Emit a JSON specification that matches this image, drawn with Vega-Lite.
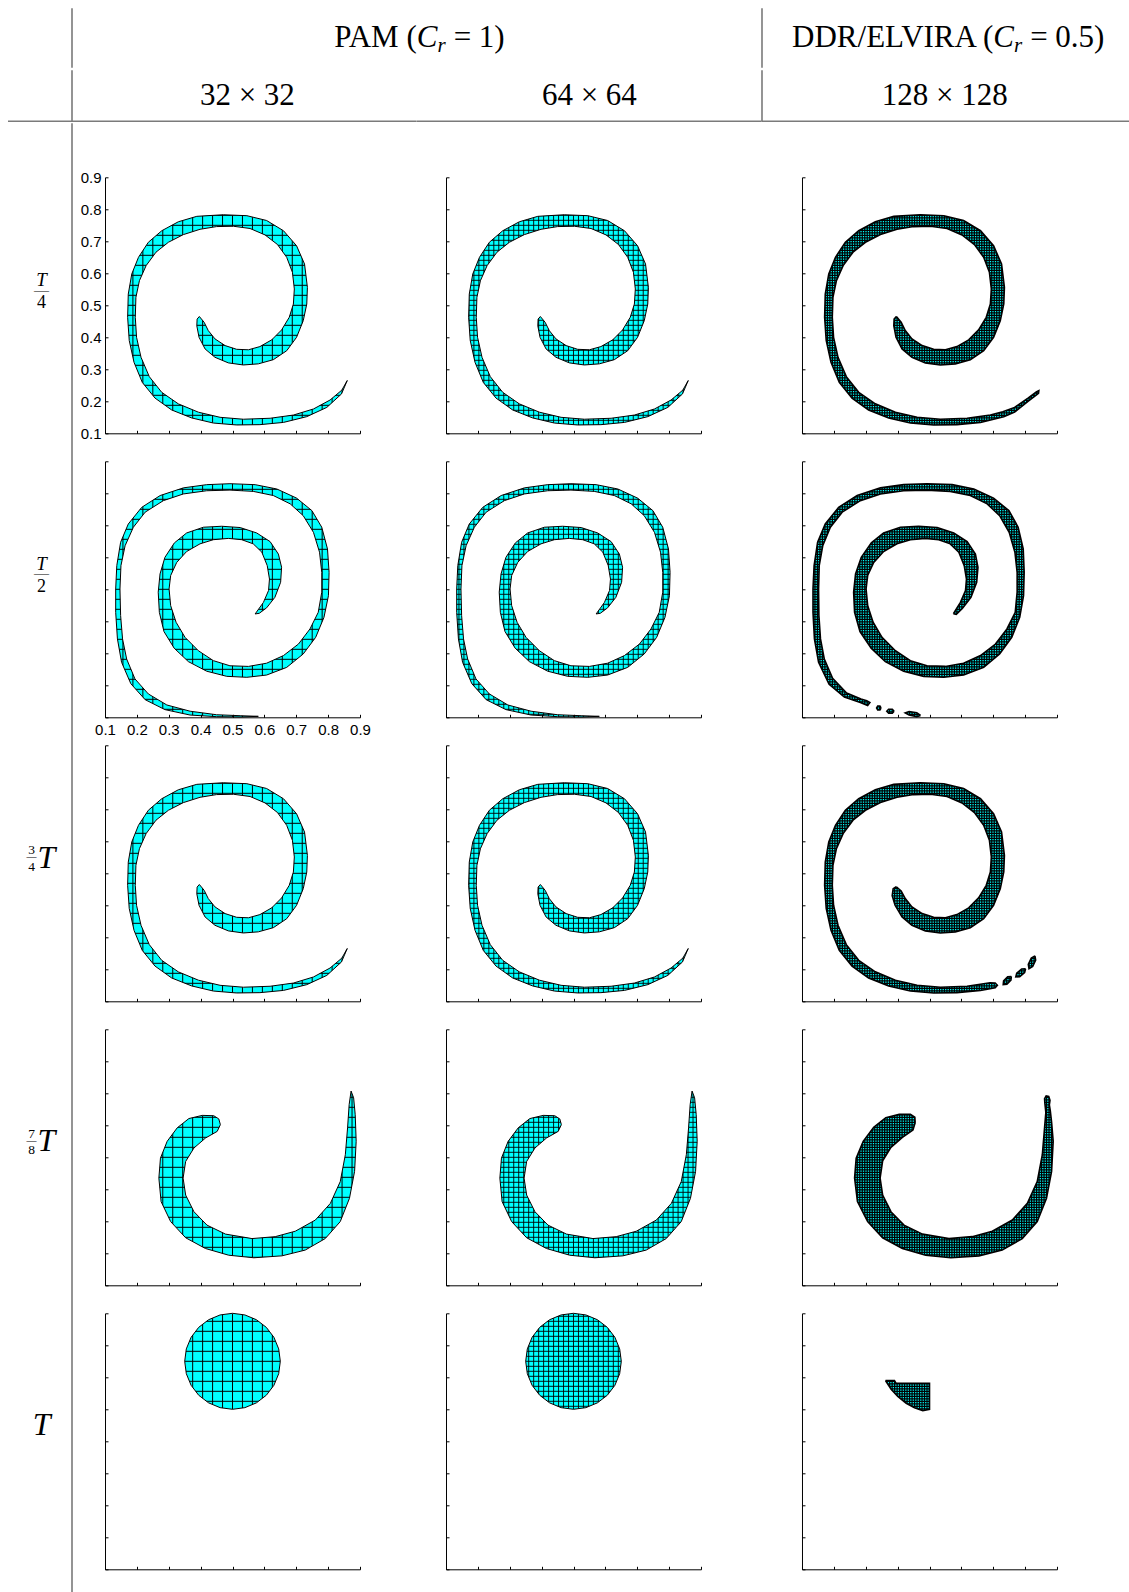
{
"$schema":"https://vega.github.io/schema/vega-lite/v6.json",
"padding":{"top":7.3,"left":0,"right":0,"bottom":0},
"config":{"view":{"stroke":null},"axis":{"domainColor":"black","tickColor":"black","labelColor":"black","labelFont":"Liberation Sans","labelFontSize":15,"grid":false,"domainWidth":1,"tickWidth":1,"tickSize":-3,"labelFlush":false,"labelOverlap":false}},
"datasets":{
"mesh":[1,2,3,4,5,6,7,8,9,10,11,12,13,14,15,16,17,18,19,20,21,22,23,24,25,26,27,28,29,30,31,32,33,34,35,36,37,38,39,40,41,42,43,44,45,46,47,48,49,50,51,52,53,54,55,56,57,58,59,60,61,62,63,64,65,66,67,68,69,70,71,72,73,74,75,76,77,78,79,80,81,82,83,84,85,86,87,88,89,90,91,92,93,94,95,96,97,98,99,100,101,102,103,104,105,106,107,108,109,110,111,112,113,114,115,116,117,118,119,120,121,122,123,124,125,126,127],
"t4":[{"p":"r","x":0.09,"y":0.09},{"p":"r","x":0.91,"y":0.09},{"p":"r","x":0.91,"y":0.91},{"p":"r","x":0.09,"y":0.91},{"p":"r","x":0.09,"y":0.09},
{"p":"s","x":0.396,"y":0.465},{"p":"s","x":0.411,"y":0.447},{"p":"s","x":0.424,"y":0.421},{"p":"s","x":0.445,"y":0.395},{"p":"s","x":0.477,"y":0.374},{"p":"s","x":0.513,"y":0.3625},{"p":"s","x":0.55,"y":0.361},{"p":"s","x":0.586,"y":0.371},{"p":"s","x":0.623,"y":0.392},{"p":"s","x":0.654,"y":0.423},{"p":"s","x":0.678,"y":0.4625},{"p":"s","x":0.691,"y":0.504},{"p":"s","x":0.694,"y":0.551},{"p":"s","x":0.688,"y":0.603},{"p":"s","x":0.67,"y":0.65},{"p":"s","x":0.641,"y":0.69},{"p":"s","x":0.602,"y":0.72},{"p":"s","x":0.555,"y":0.74},{"p":"s","x":0.503,"y":0.747},{"p":"s","x":0.45,"y":0.746},{"p":"s","x":0.398,"y":0.7375},{"p":"s","x":0.346,"y":0.721},{"p":"s","x":0.299,"y":0.697},{"p":"s","x":0.26,"y":0.666},{"p":"s","x":0.229,"y":0.624},{"p":"s","x":0.208,"y":0.577},{"p":"s","x":0.197,"y":0.525},{"p":"s","x":0.195,"y":0.4625},{"p":"s","x":0.199,"y":0.4},{"p":"s","x":0.213,"y":0.3375},{"p":"s","x":0.239,"y":0.277},{"p":"s","x":0.278,"y":0.228},{"p":"s","x":0.33,"y":0.192},{"p":"s","x":0.393,"y":0.166},{"p":"s","x":0.461,"y":0.15},{"p":"s","x":0.534,"y":0.144},{"p":"s","x":0.618,"y":0.147},{"p":"s","x":0.691,"y":0.157},{"p":"s","x":0.754,"y":0.176},{"p":"s","x":0.806,"y":0.204},{"p":"s","x":0.843,"y":0.235},{"p":"s","x":0.86,"y":0.265},{"p":"s","x":0.842,"y":0.223},{"p":"s","x":0.796,"y":0.181},{"p":"s","x":0.733,"y":0.152},{"p":"s","x":0.66,"y":0.134},{"p":"s","x":0.586,"y":0.127},{"p":"s","x":0.513,"y":0.126},{"p":"s","x":0.44,"y":0.132},{"p":"s","x":0.372,"y":0.148},{"p":"s","x":0.309,"y":0.173},{"p":"s","x":0.257,"y":0.21},{"p":"s","x":0.217,"y":0.259},{"p":"s","x":0.191,"y":0.322},{"p":"s","x":0.176,"y":0.39},{"p":"s","x":0.171,"y":0.4625},{"p":"s","x":0.173,"y":0.535},{"p":"s","x":0.184,"y":0.598},{"p":"s","x":0.205,"y":0.65},{"p":"s","x":0.236,"y":0.697},{"p":"s","x":0.278,"y":0.733},{"p":"s","x":0.33,"y":0.761},{"p":"s","x":0.388,"y":0.778},{"p":"s","x":0.471,"y":0.783},{"p":"s","x":0.545,"y":0.78},{"p":"s","x":0.607,"y":0.765},{"p":"s","x":0.66,"y":0.733},{"p":"s","x":0.701,"y":0.686},{"p":"s","x":0.726,"y":0.629},{"p":"s","x":0.735,"y":0.556},{"p":"s","x":0.733,"y":0.504},{"p":"s","x":0.722,"y":0.452},{"p":"s","x":0.701,"y":0.4},{"p":"s","x":0.67,"y":0.358},{"p":"s","x":0.628,"y":0.33},{"p":"s","x":0.581,"y":0.317},{"p":"s","x":0.534,"y":0.3135},{"p":"s","x":0.487,"y":0.32},{"p":"s","x":0.445,"y":0.3375},{"p":"s","x":0.414,"y":0.3635},{"p":"s","x":0.395,"y":0.4},{"p":"s","x":0.388,"y":0.436},{"p":"s","x":0.389,"y":0.457},{"p":"s","x":0.396,"y":0.465}],
"t4d":[{"p":"r","x":0.09,"y":0.09},{"p":"r","x":0.91,"y":0.09},{"p":"r","x":0.91,"y":0.91},{"p":"r","x":0.09,"y":0.91},{"p":"r","x":0.09,"y":0.09},
{"p":"s","x":0.396,"y":0.465},{"p":"s","x":0.411,"y":0.447},{"p":"s","x":0.424,"y":0.421},{"p":"s","x":0.445,"y":0.395},{"p":"s","x":0.477,"y":0.374},{"p":"s","x":0.513,"y":0.3625},{"p":"s","x":0.55,"y":0.361},{"p":"s","x":0.586,"y":0.371},{"p":"s","x":0.623,"y":0.392},{"p":"s","x":0.654,"y":0.423},{"p":"s","x":0.678,"y":0.4625},{"p":"s","x":0.691,"y":0.504},{"p":"s","x":0.694,"y":0.551},{"p":"s","x":0.688,"y":0.603},{"p":"s","x":0.67,"y":0.65},{"p":"s","x":0.641,"y":0.69},{"p":"s","x":0.602,"y":0.72},{"p":"s","x":0.555,"y":0.74},{"p":"s","x":0.503,"y":0.747},{"p":"s","x":0.45,"y":0.746},{"p":"s","x":0.398,"y":0.7375},{"p":"s","x":0.346,"y":0.721},{"p":"s","x":0.299,"y":0.697},{"p":"s","x":0.26,"y":0.666},{"p":"s","x":0.229,"y":0.624},{"p":"s","x":0.208,"y":0.577},{"p":"s","x":0.197,"y":0.525},{"p":"s","x":0.195,"y":0.4625},{"p":"s","x":0.199,"y":0.4},{"p":"s","x":0.213,"y":0.3375},{"p":"s","x":0.239,"y":0.277},{"p":"s","x":0.278,"y":0.228},{"p":"s","x":0.33,"y":0.192},{"p":"s","x":0.393,"y":0.166},{"p":"s","x":0.461,"y":0.15},{"p":"s","x":0.534,"y":0.144},{"p":"s","x":0.618,"y":0.147},{"p":"s","x":0.691,"y":0.157},{"p":"s","x":0.73,"y":0.167},{"p":"s","x":0.767,"y":0.181},{"p":"s","x":0.809,"y":0.21},{"p":"s","x":0.835,"y":0.229},{"p":"s","x":0.843,"y":0.233},{"p":"s","x":0.842,"y":0.225},{"p":"s","x":0.809,"y":0.2},{"p":"s","x":0.767,"y":0.166},{"p":"s","x":0.733,"y":0.152},{"p":"s","x":0.66,"y":0.134},{"p":"s","x":0.586,"y":0.127},{"p":"s","x":0.513,"y":0.126},{"p":"s","x":0.44,"y":0.132},{"p":"s","x":0.372,"y":0.148},{"p":"s","x":0.309,"y":0.173},{"p":"s","x":0.257,"y":0.21},{"p":"s","x":0.217,"y":0.259},{"p":"s","x":0.191,"y":0.322},{"p":"s","x":0.176,"y":0.39},{"p":"s","x":0.171,"y":0.4625},{"p":"s","x":0.173,"y":0.535},{"p":"s","x":0.184,"y":0.598},{"p":"s","x":0.205,"y":0.65},{"p":"s","x":0.236,"y":0.697},{"p":"s","x":0.278,"y":0.733},{"p":"s","x":0.33,"y":0.761},{"p":"s","x":0.388,"y":0.778},{"p":"s","x":0.471,"y":0.783},{"p":"s","x":0.545,"y":0.78},{"p":"s","x":0.607,"y":0.765},{"p":"s","x":0.66,"y":0.733},{"p":"s","x":0.701,"y":0.686},{"p":"s","x":0.726,"y":0.629},{"p":"s","x":0.735,"y":0.556},{"p":"s","x":0.733,"y":0.504},{"p":"s","x":0.722,"y":0.452},{"p":"s","x":0.701,"y":0.4},{"p":"s","x":0.67,"y":0.358},{"p":"s","x":0.628,"y":0.33},{"p":"s","x":0.581,"y":0.317},{"p":"s","x":0.534,"y":0.3135},{"p":"s","x":0.487,"y":0.32},{"p":"s","x":0.445,"y":0.3375},{"p":"s","x":0.414,"y":0.3635},{"p":"s","x":0.395,"y":0.4},{"p":"s","x":0.388,"y":0.436},{"p":"s","x":0.389,"y":0.457},{"p":"s","x":0.396,"y":0.465}],
"t34d":[{"p":"r","x":0.09,"y":0.09},{"p":"r","x":0.91,"y":0.09},{"p":"r","x":0.91,"y":0.91},{"p":"r","x":0.09,"y":0.91},{"p":"r","x":0.09,"y":0.09},
{"p":"s","x":0.396,"y":0.458},{"p":"s","x":0.411,"y":0.445},{"p":"s","x":0.424,"y":0.421},{"p":"s","x":0.445,"y":0.395},{"p":"s","x":0.477,"y":0.374},{"p":"s","x":0.513,"y":0.3625},{"p":"s","x":0.55,"y":0.361},{"p":"s","x":0.586,"y":0.371},{"p":"s","x":0.623,"y":0.392},{"p":"s","x":0.654,"y":0.423},{"p":"s","x":0.678,"y":0.4625},{"p":"s","x":0.691,"y":0.504},{"p":"s","x":0.694,"y":0.551},{"p":"s","x":0.688,"y":0.603},{"p":"s","x":0.67,"y":0.65},{"p":"s","x":0.641,"y":0.69},{"p":"s","x":0.602,"y":0.72},{"p":"s","x":0.555,"y":0.74},{"p":"s","x":0.503,"y":0.747},{"p":"s","x":0.45,"y":0.746},{"p":"s","x":0.398,"y":0.7375},{"p":"s","x":0.346,"y":0.721},{"p":"s","x":0.299,"y":0.697},{"p":"s","x":0.26,"y":0.666},{"p":"s","x":0.229,"y":0.624},{"p":"s","x":0.208,"y":0.577},{"p":"s","x":0.197,"y":0.525},{"p":"s","x":0.195,"y":0.4625},{"p":"s","x":0.199,"y":0.4},{"p":"s","x":0.213,"y":0.3375},{"p":"s","x":0.239,"y":0.277},{"p":"s","x":0.278,"y":0.228},{"p":"s","x":0.33,"y":0.192},{"p":"s","x":0.393,"y":0.166},{"p":"s","x":0.461,"y":0.15},{"p":"s","x":0.534,"y":0.144},{"p":"s","x":0.618,"y":0.147},{"p":"s","x":0.69,"y":0.158},{"p":"s","x":0.706,"y":0.157},{"p":"s","x":0.713,"y":0.15},{"p":"s","x":0.706,"y":0.142},{"p":"s","x":0.66,"y":0.134},{"p":"s","x":0.586,"y":0.127},{"p":"s","x":0.513,"y":0.126},{"p":"s","x":0.44,"y":0.132},{"p":"s","x":0.372,"y":0.148},{"p":"s","x":0.309,"y":0.173},{"p":"s","x":0.257,"y":0.21},{"p":"s","x":0.217,"y":0.259},{"p":"s","x":0.191,"y":0.322},{"p":"s","x":0.176,"y":0.39},{"p":"s","x":0.171,"y":0.4625},{"p":"s","x":0.173,"y":0.535},{"p":"s","x":0.184,"y":0.598},{"p":"s","x":0.205,"y":0.65},{"p":"s","x":0.236,"y":0.697},{"p":"s","x":0.278,"y":0.733},{"p":"s","x":0.33,"y":0.761},{"p":"s","x":0.388,"y":0.778},{"p":"s","x":0.471,"y":0.783},{"p":"s","x":0.545,"y":0.78},{"p":"s","x":0.607,"y":0.765},{"p":"s","x":0.66,"y":0.733},{"p":"s","x":0.701,"y":0.686},{"p":"s","x":0.726,"y":0.629},{"p":"s","x":0.735,"y":0.556},{"p":"s","x":0.733,"y":0.504},{"p":"s","x":0.722,"y":0.452},{"p":"s","x":0.701,"y":0.4},{"p":"s","x":0.67,"y":0.358},{"p":"s","x":0.628,"y":0.33},{"p":"s","x":0.581,"y":0.317},{"p":"s","x":0.534,"y":0.3135},{"p":"s","x":0.487,"y":0.32},{"p":"s","x":0.445,"y":0.3375},{"p":"s","x":0.414,"y":0.3635},{"p":"s","x":0.392,"y":0.4},{"p":"s","x":0.383,"y":0.43},{"p":"s","x":0.386,"y":0.452},{"p":"s","x":0.396,"y":0.458},
{"p":"r","x":0.09,"y":0.09},
{"p":"b1","x":0.7567,"y":0.1777},{"p":"b1","x":0.7555,"y":0.1662},{"p":"b1","x":0.7428,"y":0.1535},{"p":"b1","x":0.7313,"y":0.1523},{"p":"b1","x":0.7325,"y":0.1638},{"p":"b1","x":0.7452,"y":0.1765},{"p":"b1","x":0.7567,"y":0.1777},
{"p":"r","x":0.09,"y":0.09},
{"p":"b2","x":0.8013,"y":0.2019},{"p":"b2","x":0.7984,"y":0.1898},{"p":"b2","x":0.783,"y":0.177},{"p":"b2","x":0.7707,"y":0.1761},{"p":"b2","x":0.7737,"y":0.1882},{"p":"b2","x":0.789,"y":0.201},{"p":"b2","x":0.8013,"y":0.2019},
{"p":"r","x":0.09,"y":0.09},
{"p":"b3","x":0.8308,"y":0.2419},{"p":"b3","x":0.833,"y":0.2288},{"p":"b3","x":0.8237,"y":0.2089},{"p":"b3","x":0.8122,"y":0.2021},{"p":"b3","x":0.81,"y":0.2152},{"p":"b3","x":0.8194,"y":0.2351},{"p":"b3","x":0.8308,"y":0.2419}],
"t2":[{"p":"r","x":0.09,"y":0.09},{"p":"r","x":0.91,"y":0.09},{"p":"r","x":0.91,"y":0.91},{"p":"r","x":0.09,"y":0.91},{"p":"r","x":0.09,"y":0.09},
{"p":"s","x":0.571,"y":0.423},{"p":"s","x":0.597,"y":0.459},{"p":"s","x":0.613,"y":0.496},{"p":"s","x":0.616,"y":0.532},{"p":"s","x":0.609,"y":0.574},{"p":"s","x":0.592,"y":0.616},{"p":"s","x":0.565,"y":0.642},{"p":"s","x":0.529,"y":0.655},{"p":"s","x":0.487,"y":0.659},{"p":"s","x":0.44,"y":0.655},{"p":"s","x":0.398,"y":0.642},{"p":"s","x":0.356,"y":0.618},{"p":"s","x":0.325,"y":0.584},{"p":"s","x":0.306,"y":0.543},{"p":"s","x":0.301,"y":0.501},{"p":"s","x":0.306,"y":0.449},{"p":"s","x":0.323,"y":0.397},{"p":"s","x":0.351,"y":0.35},{"p":"s","x":0.393,"y":0.308},{"p":"s","x":0.44,"y":0.277},{"p":"s","x":0.492,"y":0.261},{"p":"s","x":0.55,"y":0.259},{"p":"s","x":0.607,"y":0.269},{"p":"s","x":0.66,"y":0.293},{"p":"s","x":0.707,"y":0.329},{"p":"s","x":0.743,"y":0.376},{"p":"s","x":0.769,"y":0.428},{"p":"s","x":0.78,"y":0.491},{"p":"s","x":0.78,"y":0.553},{"p":"s","x":0.773,"y":0.616},{"p":"s","x":0.754,"y":0.678},{"p":"s","x":0.722,"y":0.73},{"p":"s","x":0.681,"y":0.767},{"p":"s","x":0.628,"y":0.793},{"p":"s","x":0.565,"y":0.806},{"p":"s","x":0.492,"y":0.81},{"p":"s","x":0.419,"y":0.808},{"p":"s","x":0.346,"y":0.798},{"p":"s","x":0.283,"y":0.777},{"p":"s","x":0.226,"y":0.741},{"p":"s","x":0.189,"y":0.694},{"p":"s","x":0.163,"y":0.636},{"p":"s","x":0.15,"y":0.574},{"p":"s","x":0.147,"y":0.501},{"p":"s","x":0.149,"y":0.418},{"p":"s","x":0.155,"y":0.345},{"p":"s","x":0.168,"y":0.282},{"p":"s","x":0.194,"y":0.22},{"p":"s","x":0.236,"y":0.173},{"p":"s","x":0.294,"y":0.1385},{"p":"s","x":0.367,"y":0.119},{"p":"s","x":0.45,"y":0.108},{"p":"s","x":0.524,"y":0.105},{"p":"s","x":0.581,"y":0.103},{"p":"s","x":0.524,"y":0.101},{"p":"s","x":0.45,"y":0.102},{"p":"s","x":0.367,"y":0.107},{"p":"s","x":0.288,"y":0.124},{"p":"s","x":0.226,"y":0.155},{"p":"s","x":0.181,"y":0.205},{"p":"s","x":0.152,"y":0.272},{"p":"s","x":0.139,"y":0.345},{"p":"s","x":0.1335,"y":0.428},{"p":"s","x":0.1335,"y":0.501},{"p":"s","x":0.137,"y":0.574},{"p":"s","x":0.149,"y":0.647},{"p":"s","x":0.173,"y":0.704},{"p":"s","x":0.215,"y":0.756},{"p":"s","x":0.273,"y":0.793},{"p":"s","x":0.346,"y":0.817},{"p":"s","x":0.419,"y":0.827},{"p":"s","x":0.492,"y":0.83},{"p":"s","x":0.571,"y":0.827},{"p":"s","x":0.639,"y":0.8135},{"p":"s","x":0.701,"y":0.785},{"p":"s","x":0.749,"y":0.746},{"p":"s","x":0.78,"y":0.694},{"p":"s","x":0.798,"y":0.626},{"p":"s","x":0.803,"y":0.553},{"p":"s","x":0.801,"y":0.48},{"p":"s","x":0.787,"y":0.4125},{"p":"s","x":0.761,"y":0.35},{"p":"s","x":0.722,"y":0.298},{"p":"s","x":0.67,"y":0.256},{"p":"s","x":0.607,"y":0.232},{"p":"s","x":0.545,"y":0.225},{"p":"s","x":0.482,"y":0.228},{"p":"s","x":0.419,"y":0.244},{"p":"s","x":0.3615,"y":0.274},{"p":"s","x":0.317,"y":0.316},{"p":"s","x":0.285,"y":0.368},{"p":"s","x":0.2705,"y":0.428},{"p":"s","x":0.267,"y":0.491},{"p":"s","x":0.2726,"y":0.548},{"p":"s","x":0.288,"y":0.6},{"p":"s","x":0.3176,"y":0.645},{"p":"s","x":0.356,"y":0.676},{"p":"s","x":0.4086,"y":0.694},{"p":"s","x":0.466,"y":0.697},{"p":"s","x":0.524,"y":0.693},{"p":"s","x":0.576,"y":0.676},{"p":"s","x":0.618,"y":0.649},{"p":"s","x":0.644,"y":0.61},{"p":"s","x":0.654,"y":0.569},{"p":"s","x":0.651,"y":0.522},{"p":"s","x":0.633,"y":0.475},{"p":"s","x":0.607,"y":0.442},{"p":"s","x":0.584,"y":0.425},{"p":"s","x":0.571,"y":0.423}],
"t2d":[{"p":"r","x":0.09,"y":0.09},{"p":"r","x":0.91,"y":0.09},{"p":"r","x":0.91,"y":0.91},{"p":"r","x":0.09,"y":0.91},{"p":"r","x":0.09,"y":0.09},
{"p":"s","x":0.575,"y":0.424},{"p":"s","x":0.597,"y":0.459},{"p":"s","x":0.613,"y":0.496},{"p":"s","x":0.616,"y":0.532},{"p":"s","x":0.609,"y":0.574},{"p":"s","x":0.592,"y":0.616},{"p":"s","x":0.565,"y":0.642},{"p":"s","x":0.529,"y":0.655},{"p":"s","x":0.487,"y":0.659},{"p":"s","x":0.44,"y":0.655},{"p":"s","x":0.398,"y":0.642},{"p":"s","x":0.356,"y":0.618},{"p":"s","x":0.325,"y":0.584},{"p":"s","x":0.306,"y":0.543},{"p":"s","x":0.301,"y":0.501},{"p":"s","x":0.306,"y":0.449},{"p":"s","x":0.323,"y":0.397},{"p":"s","x":0.351,"y":0.35},{"p":"s","x":0.393,"y":0.308},{"p":"s","x":0.44,"y":0.277},{"p":"s","x":0.492,"y":0.261},{"p":"s","x":0.55,"y":0.259},{"p":"s","x":0.607,"y":0.269},{"p":"s","x":0.66,"y":0.293},{"p":"s","x":0.707,"y":0.329},{"p":"s","x":0.743,"y":0.376},{"p":"s","x":0.769,"y":0.428},{"p":"s","x":0.775,"y":0.491},{"p":"s","x":0.775,"y":0.553},{"p":"s","x":0.768,"y":0.616},{"p":"s","x":0.75,"y":0.678},{"p":"s","x":0.72,"y":0.73},{"p":"s","x":0.681,"y":0.767},{"p":"s","x":0.628,"y":0.793},{"p":"s","x":0.565,"y":0.806},{"p":"s","x":0.492,"y":0.81},{"p":"s","x":0.419,"y":0.808},{"p":"s","x":0.346,"y":0.798},{"p":"s","x":0.283,"y":0.777},{"p":"s","x":0.226,"y":0.741},{"p":"s","x":0.189,"y":0.694},{"p":"s","x":0.165,"y":0.636},{"p":"s","x":0.154,"y":0.574},{"p":"s","x":0.152,"y":0.501},{"p":"s","x":0.153,"y":0.418},{"p":"s","x":0.158,"y":0.345},{"p":"s","x":0.17,"y":0.282},{"p":"s","x":0.196,"y":0.222},{"p":"s","x":0.24,"y":0.176},{"p":"s","x":0.285,"y":0.157},{"p":"s","x":0.303,"y":0.152},{"p":"s","x":0.313,"y":0.146},{"p":"s","x":0.306,"y":0.137},{"p":"s","x":0.283,"y":0.146},{"p":"s","x":0.233,"y":0.163},{"p":"s","x":0.185,"y":0.203},{"p":"s","x":0.152,"y":0.272},{"p":"s","x":0.139,"y":0.345},{"p":"s","x":0.1345,"y":0.428},{"p":"s","x":0.1345,"y":0.501},{"p":"s","x":0.138,"y":0.574},{"p":"s","x":0.149,"y":0.647},{"p":"s","x":0.173,"y":0.704},{"p":"s","x":0.215,"y":0.756},{"p":"s","x":0.273,"y":0.793},{"p":"s","x":0.346,"y":0.817},{"p":"s","x":0.419,"y":0.827},{"p":"s","x":0.492,"y":0.83},{"p":"s","x":0.571,"y":0.827},{"p":"s","x":0.639,"y":0.8135},{"p":"s","x":0.701,"y":0.785},{"p":"s","x":0.749,"y":0.746},{"p":"s","x":0.778,"y":0.694},{"p":"s","x":0.794,"y":0.626},{"p":"s","x":0.797,"y":0.553},{"p":"s","x":0.795,"y":0.48},{"p":"s","x":0.783,"y":0.4125},{"p":"s","x":0.758,"y":0.35},{"p":"s","x":0.72,"y":0.298},{"p":"s","x":0.67,"y":0.256},{"p":"s","x":0.607,"y":0.232},{"p":"s","x":0.545,"y":0.225},{"p":"s","x":0.482,"y":0.228},{"p":"s","x":0.419,"y":0.244},{"p":"s","x":0.3615,"y":0.274},{"p":"s","x":0.317,"y":0.316},{"p":"s","x":0.282,"y":0.368},{"p":"s","x":0.265,"y":0.428},{"p":"s","x":0.262,"y":0.491},{"p":"s","x":0.268,"y":0.548},{"p":"s","x":0.286,"y":0.6},{"p":"s","x":0.3176,"y":0.645},{"p":"s","x":0.356,"y":0.676},{"p":"s","x":0.4086,"y":0.694},{"p":"s","x":0.466,"y":0.697},{"p":"s","x":0.524,"y":0.693},{"p":"s","x":0.576,"y":0.676},{"p":"s","x":0.618,"y":0.649},{"p":"s","x":0.644,"y":0.61},{"p":"s","x":0.652,"y":0.569},{"p":"s","x":0.648,"y":0.522},{"p":"s","x":0.63,"y":0.475},{"p":"s","x":0.603,"y":0.44},{"p":"s","x":0.584,"y":0.422},{"p":"s","x":0.575,"y":0.424},
{"p":"r","x":0.09,"y":0.09},
{"p":"b1","x":0.348,"y":0.129},{"p":"b1","x":0.3445,"y":0.1229},{"p":"b1","x":0.3375,"y":0.1229},{"p":"b1","x":0.334,"y":0.129},{"p":"b1","x":0.3375,"y":0.1351},{"p":"b1","x":0.3445,"y":0.1351},{"p":"b1","x":0.348,"y":0.129},
{"p":"r","x":0.09,"y":0.09},
{"p":"b2","x":0.389,"y":0.119},{"p":"b2","x":0.3833,"y":0.1127},{"p":"b2","x":0.3718,"y":0.1127},{"p":"b2","x":0.366,"y":0.119},{"p":"b2","x":0.3718,"y":0.1253},{"p":"b2","x":0.3833,"y":0.1253},{"p":"b2","x":0.389,"y":0.119},
{"p":"r","x":0.09,"y":0.09},
{"p":"b3","x":0.472,"y":0.106},{"p":"b3","x":0.46,"y":0.102},{"p":"b3","x":0.436,"y":0.1075},{"p":"b3","x":0.424,"y":0.114},{"p":"b3","x":0.436,"y":0.118},{"p":"b3","x":0.46,"y":0.1145},{"p":"b3","x":0.472,"y":0.106}],
"t78":[{"p":"r","x":0.09,"y":0.09},{"p":"r","x":0.91,"y":0.09},{"p":"r","x":0.91,"y":0.91},{"p":"r","x":0.09,"y":0.91},{"p":"r","x":0.09,"y":0.09},
{"p":"s","x":0.462,"y":0.602},{"p":"s","x":0.452,"y":0.581},{"p":"s","x":0.415,"y":0.56},{"p":"s","x":0.379,"y":0.529},{"p":"s","x":0.353,"y":0.487},{"p":"s","x":0.345,"y":0.435},{"p":"s","x":0.353,"y":0.382},{"p":"s","x":0.379,"y":0.33},{"p":"s","x":0.42,"y":0.288},{"p":"s","x":0.478,"y":0.26},{"p":"s","x":0.561,"y":0.246},{"p":"s","x":0.634,"y":0.252},{"p":"s","x":0.697,"y":0.269},{"p":"s","x":0.76,"y":0.304},{"p":"s","x":0.807,"y":0.356},{"p":"s","x":0.838,"y":0.424},{"p":"s","x":0.854,"y":0.508},{"p":"s","x":0.861,"y":0.592},{"p":"s","x":0.866,"y":0.665},{"p":"s","x":0.872,"y":0.707},{"p":"s","x":0.88,"y":0.686},{"p":"s","x":0.885,"y":0.633},{"p":"s","x":0.888,"y":0.55},{"p":"s","x":0.883,"y":0.456},{"p":"s","x":0.867,"y":0.372},{"p":"s","x":0.838,"y":0.299},{"p":"s","x":0.791,"y":0.246},{"p":"s","x":0.728,"y":0.21},{"p":"s","x":0.655,"y":0.192},{"p":"s","x":0.567,"y":0.186},{"p":"s","x":0.488,"y":0.194},{"p":"s","x":0.415,"y":0.215},{"p":"s","x":0.353,"y":0.2485},{"p":"s","x":0.306,"y":0.299},{"p":"s","x":0.276,"y":0.3615},{"p":"s","x":0.269,"y":0.435},{"p":"s","x":0.274,"y":0.4975},{"p":"s","x":0.295,"y":0.55},{"p":"s","x":0.3265,"y":0.592},{"p":"s","x":0.363,"y":0.621},{"p":"s","x":0.405,"y":0.631},{"p":"s","x":0.441,"y":0.63},{"p":"s","x":0.457,"y":0.62},{"p":"s","x":0.462,"y":0.602}],
"t78d":[{"p":"r","x":0.09,"y":0.09},{"p":"r","x":0.91,"y":0.09},{"p":"r","x":0.91,"y":0.91},{"p":"r","x":0.09,"y":0.91},{"p":"r","x":0.09,"y":0.09},
{"p":"s","x":0.455,"y":0.608},{"p":"s","x":0.448,"y":0.585},{"p":"s","x":0.415,"y":0.562},{"p":"s","x":0.379,"y":0.531},{"p":"s","x":0.353,"y":0.489},{"p":"s","x":0.345,"y":0.435},{"p":"s","x":0.353,"y":0.382},{"p":"s","x":0.379,"y":0.33},{"p":"s","x":0.42,"y":0.288},{"p":"s","x":0.478,"y":0.26},{"p":"s","x":0.561,"y":0.246},{"p":"s","x":0.634,"y":0.252},{"p":"s","x":0.697,"y":0.269},{"p":"s","x":0.76,"y":0.304},{"p":"s","x":0.807,"y":0.356},{"p":"s","x":0.838,"y":0.424},{"p":"s","x":0.854,"y":0.508},{"p":"s","x":0.861,"y":0.592},{"p":"s","x":0.865,"y":0.64},{"p":"s","x":0.862,"y":0.668},{"p":"s","x":0.861,"y":0.683},{"p":"s","x":0.866,"y":0.692},{"p":"s","x":0.874,"y":0.69},{"p":"s","x":0.878,"y":0.678},{"p":"s","x":0.876,"y":0.664},{"p":"s","x":0.879,"y":0.645},{"p":"s","x":0.883,"y":0.61},{"p":"s","x":0.888,"y":0.55},{"p":"s","x":0.883,"y":0.456},{"p":"s","x":0.867,"y":0.372},{"p":"s","x":0.838,"y":0.299},{"p":"s","x":0.791,"y":0.246},{"p":"s","x":0.728,"y":0.21},{"p":"s","x":0.655,"y":0.192},{"p":"s","x":0.567,"y":0.186},{"p":"s","x":0.488,"y":0.194},{"p":"s","x":0.415,"y":0.215},{"p":"s","x":0.353,"y":0.2485},{"p":"s","x":0.306,"y":0.299},{"p":"s","x":0.274,"y":0.3615},{"p":"s","x":0.265,"y":0.435},{"p":"s","x":0.27,"y":0.4975},{"p":"s","x":0.292,"y":0.55},{"p":"s","x":0.325,"y":0.594},{"p":"s","x":0.363,"y":0.624},{"p":"s","x":0.405,"y":0.634},{"p":"s","x":0.44,"y":0.634},{"p":"s","x":0.454,"y":0.625},{"p":"s","x":0.455,"y":0.608}],
"circ":[{"p":"r","x":0.09,"y":0.09},{"p":"r","x":0.91,"y":0.09},{"p":"r","x":0.91,"y":0.91},{"p":"r","x":0.09,"y":0.91},{"p":"r","x":0.09,"y":0.09},
{"p":"s","x":0.65,"y":0.75},{"p":"s","x":0.6449,"y":0.7112},{"p":"s","x":0.6299,"y":0.675},{"p":"s","x":0.6061,"y":0.6439},{"p":"s","x":0.575,"y":0.6201},{"p":"s","x":0.5388,"y":0.6051},{"p":"s","x":0.5,"y":0.6},{"p":"s","x":0.4612,"y":0.6051},{"p":"s","x":0.425,"y":0.6201},{"p":"s","x":0.3939,"y":0.6439},{"p":"s","x":0.3701,"y":0.675},{"p":"s","x":0.3551,"y":0.7112},{"p":"s","x":0.35,"y":0.75},{"p":"s","x":0.3551,"y":0.7888},{"p":"s","x":0.3701,"y":0.825},{"p":"s","x":0.3939,"y":0.8561},{"p":"s","x":0.425,"y":0.8799},{"p":"s","x":0.4612,"y":0.8949},{"p":"s","x":0.5,"y":0.9},{"p":"s","x":0.5388,"y":0.8949},{"p":"s","x":0.575,"y":0.8799},{"p":"s","x":0.6061,"y":0.8561},{"p":"s","x":0.6299,"y":0.825},{"p":"s","x":0.6449,"y":0.7888},{"p":"s","x":0.65,"y":0.75}],
"wedge":[{"p":"r","x":0.09,"y":0.09},{"p":"r","x":0.91,"y":0.09},{"p":"r","x":0.91,"y":0.91},{"p":"r","x":0.09,"y":0.91},{"p":"r","x":0.09,"y":0.09},
{"p":"s","x":0.362,"y":0.69},{"p":"s","x":0.39,"y":0.69},{"p":"s","x":0.395,"y":0.6816},{"p":"s","x":0.5,"y":0.6816},{"p":"s","x":0.5,"y":0.6},{"p":"s","x":0.479,"y":0.596},{"p":"s","x":0.453,"y":0.605},{"p":"s","x":0.427,"y":0.619},{"p":"s","x":0.4005,"y":0.64},{"p":"s","x":0.3796,"y":0.663},{"p":"s","x":0.367,"y":0.6816},{"p":"s","x":0.362,"y":0.69}]
},
"vconcat":[
{"vconcat":[
 {"hconcat":[
  {"width":72,"height":59.5,"data":{"values":[{}]},"mark":{"type":"rule","color":"#7a7a7a","strokeWidth":1.6},"encoding":{"x":{"datum":1,"type":"quantitative","scale":{"domain":[0,1]},"axis":null}}},
  {"width":689.5,"height":59.5,"data":{"values":[{}]},"layer":[
   {"mark":{"type":"text","text":"PAM (","align":"right","font":"Liberation Serif","fontSize":31},"encoding":{}},
   {"mark":{"type":"text","text":"C","align":"left","font":"Liberation Serif","fontStyle":"italic","fontSize":31},"encoding":{}},
   {"mark":{"type":"text","text":"r","align":"left","font":"Liberation Serif","fontStyle":"italic","fontSize":21,"dx":20.7,"dy":7.5},"encoding":{}},
   {"mark":{"type":"text","text":"= 1)","align":"left","font":"Liberation Serif","fontSize":31,"dx":36.9},"encoding":{}}
  ]},
  {"width":367.5,"height":59.5,"data":{"values":[{}]},"layer":[
   {"mark":{"type":"rule","color":"#7a7a7a","strokeWidth":1.6},"encoding":{"x":{"datum":0,"type":"quantitative","scale":{"domain":[0,1]},"axis":null}}},
   {"mark":{"type":"text","text":"DDR/ELVIRA (","align":"right","font":"Liberation Serif","fontSize":31,"dx":47.5},"encoding":{}},
   {"mark":{"type":"text","text":"C","align":"left","font":"Liberation Serif","fontStyle":"italic","fontSize":31,"dx":47.5},"encoding":{}},
   {"mark":{"type":"text","text":"r","align":"left","font":"Liberation Serif","fontStyle":"italic","fontSize":21,"dx":68.2,"dy":7.5},"encoding":{}},
   {"mark":{"type":"text","text":"= 0.5)","align":"left","font":"Liberation Serif","fontSize":31,"dx":84.4},"encoding":{}}
  ]}
 ],"spacing":0,"bounds":"flush"},
 {"hconcat":[
  {"width":72,"height":51,"data":{"values":[{}]},"layer":[
   {"mark":{"type":"rule","color":"#7a7a7a","strokeWidth":1.6},"encoding":{"x":{"datum":1,"type":"quantitative","scale":{"domain":[0,1]},"axis":null}}},
   {"mark":{"type":"rule","color":"#7a7a7a","strokeWidth":1.6},"encoding":{"x":{"datum":0.111,"type":"quantitative","scale":{"domain":[0,1]},"axis":null},"x2":{"datum":1},"y":{"datum":0,"type":"quantitative","scale":{"domain":[0,1]},"axis":null}}}
  ]},
  {"width":344.75,"height":51,"data":{"values":[{}]},"layer":[
   {"mark":{"type":"text","text":"32 × 32","font":"Liberation Serif","fontSize":31,"dx":3},"encoding":{}},
   {"mark":{"type":"rule","color":"#7a7a7a","strokeWidth":1.6},"encoding":{"y":{"datum":0,"type":"quantitative","scale":{"domain":[0,1]},"axis":null}}}
  ]},
  {"width":344.75,"height":51,"data":{"values":[{}]},"layer":[
   {"mark":{"type":"text","text":"64 × 64","font":"Liberation Serif","fontSize":31},"encoding":{}},
   {"mark":{"type":"rule","color":"#7a7a7a","strokeWidth":1.6},"encoding":{"y":{"datum":0,"type":"quantitative","scale":{"domain":[0,1]},"axis":null}}}
  ]},
  {"width":367.5,"height":51,"data":{"values":[{}]},"layer":[
   {"mark":{"type":"rule","color":"#7a7a7a","strokeWidth":1.6},"encoding":{"x":{"datum":0,"type":"quantitative","scale":{"domain":[0,1]},"axis":null}}},
   {"mark":{"type":"text","text":"128 × 128","font":"Liberation Serif","fontSize":31,"dx":-1},"encoding":{}},
   {"mark":{"type":"rule","color":"#7a7a7a","strokeWidth":1.6},"encoding":{"y":{"datum":0,"type":"quantitative","scale":{"domain":[0,1]},"axis":null}}}
  ]}
 ],"spacing":0,"bounds":"flush"}
],"spacing":0},
{"hconcat":[
 {"width":72,"height":1474,"data":{"values":[{}]},"layer":[
  {"mark":{"type":"rule","color":"#7a7a7a","strokeWidth":1.6},"encoding":{"x":{"datum":1,"type":"quantitative","scale":{"domain":[0,1]},"axis":null}}},
  {"data":{"values":[{"row":"r1"},{"row":"r2"}]},"mark":{"type":"text","text":"T","font":"Liberation Serif","fontStyle":"italic","fontSize":19,"baseline":"alphabetic","dx":5.6,"dy":-5},"encoding":{"y":{"field":"row","type":"nominal","scale":{"type":"point","domain":["r1","r2","r3","r4","r5"],"padding":0.6015,"align":0.493},"axis":null}}},
  {"data":{"values":[{"row":"r1"},{"row":"r2"}]},"mark":{"type":"text","text":"—","font":"Liberation Serif","fontSize":15,"baseline":"alphabetic","dx":5.6,"dy":3.6},"encoding":{"y":{"field":"row","type":"nominal","scale":{"type":"point","domain":["r1","r2","r3","r4","r5"],"padding":0.6015,"align":0.493},"axis":null}}},
  {"data":{"values":[{"row":"r1","t":"4"},{"row":"r2","t":"2"}]},"mark":{"type":"text","font":"Liberation Serif","fontSize":18,"baseline":"alphabetic","dx":5.6,"dy":17},"encoding":{"text":{"field":"t"},"y":{"field":"row","type":"nominal","scale":{"type":"point","domain":["r1","r2","r3","r4","r5"],"padding":0.6015,"align":0.493},"axis":null}}},
  {"data":{"values":[{"row":"r3","t":"3"},{"row":"r4","t":"7"}]},"mark":{"type":"text","font":"Liberation Serif","fontSize":13.5,"baseline":"alphabetic","dx":-4.5,"dy":-3.5},"encoding":{"text":{"field":"t"},"y":{"field":"row","type":"nominal","scale":{"type":"point","domain":["r1","r2","r3","r4","r5"],"padding":0.6015,"align":0.493},"axis":null}}},
  {"data":{"values":[{"row":"r3"},{"row":"r4"}]},"mark":{"type":"text","text":"—","font":"Liberation Serif","fontSize":10,"baseline":"alphabetic","dx":-4.5,"dy":2.4},"encoding":{"y":{"field":"row","type":"nominal","scale":{"type":"point","domain":["r1","r2","r3","r4","r5"],"padding":0.6015,"align":0.493},"axis":null}}},
  {"data":{"values":[{"row":"r3","t":"4"},{"row":"r4","t":"8"}]},"mark":{"type":"text","font":"Liberation Serif","fontSize":13.5,"baseline":"alphabetic","dx":-4.5,"dy":13},"encoding":{"text":{"field":"t"},"y":{"field":"row","type":"nominal","scale":{"type":"point","domain":["r1","r2","r3","r4","r5"],"padding":0.6015,"align":0.493},"axis":null}}},
  {"data":{"values":[{"row":"r3"},{"row":"r4"}]},"mark":{"type":"text","text":"T","font":"Liberation Serif","fontStyle":"italic","fontSize":32,"align":"left","baseline":"alphabetic","dx":1.6,"dy":10},"encoding":{"y":{"field":"row","type":"nominal","scale":{"type":"point","domain":["r1","r2","r3","r4","r5"],"padding":0.6015,"align":0.493},"axis":null}}},
  {"data":{"values":[{"row":"r5"}]},"mark":{"type":"text","text":"T","font":"Liberation Serif","fontStyle":"italic","fontSize":32,"baseline":"alphabetic","dx":5.6,"dy":10.5},"encoding":{"y":{"field":"row","type":"nominal","scale":{"type":"point","domain":["r1","r2","r3","r4","r5"],"padding":0.6015,"align":0.493},"axis":null}}}
 ]},
 {"vconcat":[
  {"width":10,"height":46.6,"data":{"values":[{}]},"mark":{"type":"text","text":""},"encoding":{}},
  {"concat":[
   {"width":31.2,"height":256,"data":{"values":[{}]},"mark":{"type":"text","text":""},"encoding":{}},
   {"width":255,"height":256,"data":{"name":"t4"},"resolve":{"scale":{"x":"independent","y":"independent"}},"layer":[
    {"transform":[{"filter":{"not":{"field":"p","equal":"r"}}}],"mark":{"type":"line","fill":"#00ffff","strokeWidth":0},"encoding":{"x":{"field":"x","type":"quantitative","scale":{"domain":[0.1,0.9],"nice":false,"zero":false},"axis":null},"y":{"field":"y","type":"quantitative","scale":{"domain":[0.1,0.9],"nice":false,"zero":false},"axis":null},"detail":{"field":"p"},"order":{"value":null}}},
    {"data":{"name":"mesh"},"mark":{"type":"rule","color":"black","strokeWidth":1,"clip":true},"encoding":{"x":{"field":"data","type":"quantitative","scale":{"domain":[3.2,28.8],"nice":false,"zero":false},"axis":null}}},
    {"data":{"name":"mesh"},"mark":{"type":"rule","color":"black","strokeWidth":1,"clip":true},"encoding":{"y":{"field":"data","type":"quantitative","scale":{"domain":[3.2,28.8],"nice":false,"zero":false},"axis":null}}},
    {"mark":{"type":"line","fill":"white","strokeWidth":0},"encoding":{"x":{"field":"x","type":"quantitative","scale":{"domain":[0.1,0.9],"nice":false,"zero":false},"axis":null},"y":{"field":"y","type":"quantitative","scale":{"domain":[0.1,0.9],"nice":false,"zero":false},"axis":null},"order":{"value":null}}},
    {"transform":[{"filter":{"not":{"field":"p","equal":"r"}}}],"mark":{"type":"line","color":"black","strokeWidth":1},"encoding":{"x":{"field":"x","type":"quantitative","scale":{"domain":[0.1,0.9],"nice":false,"zero":false},"axis":{"values":[0.1,0.2,0.3,0.4,0.5,0.6,0.7,0.8,0.9],"labels":false,"title":null,"zindex":1}},"y":{"field":"y","type":"quantitative","scale":{"domain":[0.1,0.9],"nice":false,"zero":false},"axis":{"values":[0.1,0.2,0.3,0.4,0.5,0.6,0.7,0.8,0.9],"labels":true,"format":".1f","labelPadding":7,"title":null,"zindex":1}},"detail":{"field":"p"},"order":{"value":null}}}
   ]},
   {"width":86,"height":256,"data":{"values":[{}]},"mark":{"type":"text","text":""},"encoding":{}},
   {"width":255,"height":256,"data":{"name":"t4"},"resolve":{"scale":{"x":"independent","y":"independent"}},"layer":[
    {"transform":[{"filter":{"not":{"field":"p","equal":"r"}}}],"mark":{"type":"line","fill":"#00ffff","strokeWidth":0},"encoding":{"x":{"field":"x","type":"quantitative","scale":{"domain":[0.1,0.9],"nice":false,"zero":false},"axis":null},"y":{"field":"y","type":"quantitative","scale":{"domain":[0.1,0.9],"nice":false,"zero":false},"axis":null},"detail":{"field":"p"},"order":{"value":null}}},
    {"data":{"name":"mesh"},"mark":{"type":"rule","color":"black","strokeWidth":0.9,"clip":true},"encoding":{"x":{"field":"data","type":"quantitative","scale":{"domain":[6.4,57.6],"nice":false,"zero":false},"axis":null}}},
    {"data":{"name":"mesh"},"mark":{"type":"rule","color":"black","strokeWidth":0.9,"clip":true},"encoding":{"y":{"field":"data","type":"quantitative","scale":{"domain":[6.4,57.6],"nice":false,"zero":false},"axis":null}}},
    {"mark":{"type":"line","fill":"white","strokeWidth":0},"encoding":{"x":{"field":"x","type":"quantitative","scale":{"domain":[0.1,0.9],"nice":false,"zero":false},"axis":null},"y":{"field":"y","type":"quantitative","scale":{"domain":[0.1,0.9],"nice":false,"zero":false},"axis":null},"order":{"value":null}}},
    {"transform":[{"filter":{"not":{"field":"p","equal":"r"}}}],"mark":{"type":"line","color":"black","strokeWidth":1},"encoding":{"x":{"field":"x","type":"quantitative","scale":{"domain":[0.1,0.9],"nice":false,"zero":false},"axis":{"values":[0.1,0.2,0.3,0.4,0.5,0.6,0.7,0.8,0.9],"labels":false,"title":null,"zindex":1}},"y":{"field":"y","type":"quantitative","scale":{"domain":[0.1,0.9],"nice":false,"zero":false},"axis":{"values":[0.1,0.2,0.3,0.4,0.5,0.6,0.7,0.8,0.9],"labels":false,"title":null,"zindex":1}},"detail":{"field":"p"},"order":{"value":null}}}
   ]},
   {"width":101,"height":256,"data":{"values":[{}]},"mark":{"type":"text","text":""},"encoding":{}},
   {"width":255,"height":256,"data":{"name":"t4d"},"resolve":{"scale":{"x":"independent","y":"independent"}},"layer":[
    {"transform":[{"filter":{"not":{"field":"p","equal":"r"}}}],"mark":{"type":"line","fill":"#00ffff","strokeWidth":0},"encoding":{"x":{"field":"x","type":"quantitative","scale":{"domain":[0.1,0.9],"nice":false,"zero":false},"axis":null},"y":{"field":"y","type":"quantitative","scale":{"domain":[0.1,0.9],"nice":false,"zero":false},"axis":null},"detail":{"field":"p"},"order":{"value":null}}},
    {"data":{"name":"mesh"},"mark":{"type":"rule","color":"black","strokeWidth":1.25,"clip":true},"encoding":{"x":{"field":"data","type":"quantitative","scale":{"domain":[12.8,115.2],"nice":false,"zero":false},"axis":null}}},
    {"data":{"name":"mesh"},"mark":{"type":"rule","color":"black","strokeWidth":1.25,"clip":true},"encoding":{"y":{"field":"data","type":"quantitative","scale":{"domain":[12.8,115.2],"nice":false,"zero":false},"axis":null}}},
    {"mark":{"type":"line","fill":"white","strokeWidth":0},"encoding":{"x":{"field":"x","type":"quantitative","scale":{"domain":[0.1,0.9],"nice":false,"zero":false},"axis":null},"y":{"field":"y","type":"quantitative","scale":{"domain":[0.1,0.9],"nice":false,"zero":false},"axis":null},"order":{"value":null}}},
    {"transform":[{"filter":{"not":{"field":"p","equal":"r"}}}],"mark":{"type":"line","color":"black","strokeWidth":1.6},"encoding":{"x":{"field":"x","type":"quantitative","scale":{"domain":[0.1,0.9],"nice":false,"zero":false},"axis":{"values":[0.1,0.2,0.3,0.4,0.5,0.6,0.7,0.8,0.9],"labels":false,"title":null,"zindex":1}},"y":{"field":"y","type":"quantitative","scale":{"domain":[0.1,0.9],"nice":false,"zero":false},"axis":{"values":[0.1,0.2,0.3,0.4,0.5,0.6,0.7,0.8,0.9],"labels":false,"title":null,"zindex":1}},"detail":{"field":"p"},"order":{"value":null}}}
   ]},
   {"width":31.2,"height":256,"data":{"values":[{}]},"mark":{"type":"text","text":""},"encoding":{}},
   {"width":255,"height":256,"data":{"name":"t2"},"resolve":{"scale":{"x":"independent","y":"independent"}},"layer":[
    {"transform":[{"filter":{"not":{"field":"p","equal":"r"}}}],"mark":{"type":"line","fill":"#00ffff","strokeWidth":0},"encoding":{"x":{"field":"x","type":"quantitative","scale":{"domain":[0.1,0.9],"nice":false,"zero":false},"axis":null},"y":{"field":"y","type":"quantitative","scale":{"domain":[0.1,0.9],"nice":false,"zero":false},"axis":null},"detail":{"field":"p"},"order":{"value":null}}},
    {"data":{"name":"mesh"},"mark":{"type":"rule","color":"black","strokeWidth":1,"clip":true},"encoding":{"x":{"field":"data","type":"quantitative","scale":{"domain":[3.2,28.8],"nice":false,"zero":false},"axis":null}}},
    {"data":{"name":"mesh"},"mark":{"type":"rule","color":"black","strokeWidth":1,"clip":true},"encoding":{"y":{"field":"data","type":"quantitative","scale":{"domain":[3.2,28.8],"nice":false,"zero":false},"axis":null}}},
    {"mark":{"type":"line","fill":"white","strokeWidth":0},"encoding":{"x":{"field":"x","type":"quantitative","scale":{"domain":[0.1,0.9],"nice":false,"zero":false},"axis":null},"y":{"field":"y","type":"quantitative","scale":{"domain":[0.1,0.9],"nice":false,"zero":false},"axis":null},"order":{"value":null}}},
    {"transform":[{"filter":{"not":{"field":"p","equal":"r"}}}],"mark":{"type":"line","color":"black","strokeWidth":1},"encoding":{"x":{"field":"x","type":"quantitative","scale":{"domain":[0.1,0.9],"nice":false,"zero":false},"axis":{"values":[0.1,0.2,0.3,0.4,0.5,0.6,0.7,0.8,0.9],"labels":true,"format":".1f","labelPadding":8,"title":null,"zindex":1}},"y":{"field":"y","type":"quantitative","scale":{"domain":[0.1,0.9],"nice":false,"zero":false},"axis":{"values":[0.1,0.2,0.3,0.4,0.5,0.6,0.7,0.8,0.9],"labels":false,"title":null,"zindex":1}},"detail":{"field":"p"},"order":{"value":null}}}
   ]},
   {"width":86,"height":256,"data":{"values":[{}]},"mark":{"type":"text","text":""},"encoding":{}},
   {"width":255,"height":256,"data":{"name":"t2"},"resolve":{"scale":{"x":"independent","y":"independent"}},"layer":[
    {"transform":[{"filter":{"not":{"field":"p","equal":"r"}}}],"mark":{"type":"line","fill":"#00ffff","strokeWidth":0},"encoding":{"x":{"field":"x","type":"quantitative","scale":{"domain":[0.1,0.9],"nice":false,"zero":false},"axis":null},"y":{"field":"y","type":"quantitative","scale":{"domain":[0.1,0.9],"nice":false,"zero":false},"axis":null},"detail":{"field":"p"},"order":{"value":null}}},
    {"data":{"name":"mesh"},"mark":{"type":"rule","color":"black","strokeWidth":0.9,"clip":true},"encoding":{"x":{"field":"data","type":"quantitative","scale":{"domain":[6.4,57.6],"nice":false,"zero":false},"axis":null}}},
    {"data":{"name":"mesh"},"mark":{"type":"rule","color":"black","strokeWidth":0.9,"clip":true},"encoding":{"y":{"field":"data","type":"quantitative","scale":{"domain":[6.4,57.6],"nice":false,"zero":false},"axis":null}}},
    {"mark":{"type":"line","fill":"white","strokeWidth":0},"encoding":{"x":{"field":"x","type":"quantitative","scale":{"domain":[0.1,0.9],"nice":false,"zero":false},"axis":null},"y":{"field":"y","type":"quantitative","scale":{"domain":[0.1,0.9],"nice":false,"zero":false},"axis":null},"order":{"value":null}}},
    {"transform":[{"filter":{"not":{"field":"p","equal":"r"}}}],"mark":{"type":"line","color":"black","strokeWidth":1},"encoding":{"x":{"field":"x","type":"quantitative","scale":{"domain":[0.1,0.9],"nice":false,"zero":false},"axis":{"values":[0.1,0.2,0.3,0.4,0.5,0.6,0.7,0.8,0.9],"labels":false,"title":null,"zindex":1}},"y":{"field":"y","type":"quantitative","scale":{"domain":[0.1,0.9],"nice":false,"zero":false},"axis":{"values":[0.1,0.2,0.3,0.4,0.5,0.6,0.7,0.8,0.9],"labels":false,"title":null,"zindex":1}},"detail":{"field":"p"},"order":{"value":null}}}
   ]},
   {"width":101,"height":256,"data":{"values":[{}]},"mark":{"type":"text","text":""},"encoding":{}},
   {"width":255,"height":256,"data":{"name":"t2d"},"resolve":{"scale":{"x":"independent","y":"independent"}},"layer":[
    {"transform":[{"filter":{"not":{"field":"p","equal":"r"}}}],"mark":{"type":"line","fill":"#00ffff","strokeWidth":0},"encoding":{"x":{"field":"x","type":"quantitative","scale":{"domain":[0.1,0.9],"nice":false,"zero":false},"axis":null},"y":{"field":"y","type":"quantitative","scale":{"domain":[0.1,0.9],"nice":false,"zero":false},"axis":null},"detail":{"field":"p"},"order":{"value":null}}},
    {"data":{"name":"mesh"},"mark":{"type":"rule","color":"black","strokeWidth":1.25,"clip":true},"encoding":{"x":{"field":"data","type":"quantitative","scale":{"domain":[12.8,115.2],"nice":false,"zero":false},"axis":null}}},
    {"data":{"name":"mesh"},"mark":{"type":"rule","color":"black","strokeWidth":1.25,"clip":true},"encoding":{"y":{"field":"data","type":"quantitative","scale":{"domain":[12.8,115.2],"nice":false,"zero":false},"axis":null}}},
    {"mark":{"type":"line","fill":"white","strokeWidth":0},"encoding":{"x":{"field":"x","type":"quantitative","scale":{"domain":[0.1,0.9],"nice":false,"zero":false},"axis":null},"y":{"field":"y","type":"quantitative","scale":{"domain":[0.1,0.9],"nice":false,"zero":false},"axis":null},"order":{"value":null}}},
    {"transform":[{"filter":{"not":{"field":"p","equal":"r"}}}],"mark":{"type":"line","color":"black","strokeWidth":1.6},"encoding":{"x":{"field":"x","type":"quantitative","scale":{"domain":[0.1,0.9],"nice":false,"zero":false},"axis":{"values":[0.1,0.2,0.3,0.4,0.5,0.6,0.7,0.8,0.9],"labels":false,"title":null,"zindex":1}},"y":{"field":"y","type":"quantitative","scale":{"domain":[0.1,0.9],"nice":false,"zero":false},"axis":{"values":[0.1,0.2,0.3,0.4,0.5,0.6,0.7,0.8,0.9],"labels":false,"title":null,"zindex":1}},"detail":{"field":"p"},"order":{"value":null}}}
   ]},
   {"width":31.2,"height":256,"data":{"values":[{}]},"mark":{"type":"text","text":""},"encoding":{}},
   {"width":255,"height":256,"data":{"name":"t4"},"resolve":{"scale":{"x":"independent","y":"independent"}},"layer":[
    {"transform":[{"filter":{"not":{"field":"p","equal":"r"}}}],"mark":{"type":"line","fill":"#00ffff","strokeWidth":0},"encoding":{"x":{"field":"x","type":"quantitative","scale":{"domain":[0.1,0.9],"nice":false,"zero":false},"axis":null},"y":{"field":"y","type":"quantitative","scale":{"domain":[0.1,0.9],"nice":false,"zero":false},"axis":null},"detail":{"field":"p"},"order":{"value":null}}},
    {"data":{"name":"mesh"},"mark":{"type":"rule","color":"black","strokeWidth":1,"clip":true},"encoding":{"x":{"field":"data","type":"quantitative","scale":{"domain":[3.2,28.8],"nice":false,"zero":false},"axis":null}}},
    {"data":{"name":"mesh"},"mark":{"type":"rule","color":"black","strokeWidth":1,"clip":true},"encoding":{"y":{"field":"data","type":"quantitative","scale":{"domain":[3.2,28.8],"nice":false,"zero":false},"axis":null}}},
    {"mark":{"type":"line","fill":"white","strokeWidth":0},"encoding":{"x":{"field":"x","type":"quantitative","scale":{"domain":[0.1,0.9],"nice":false,"zero":false},"axis":null},"y":{"field":"y","type":"quantitative","scale":{"domain":[0.1,0.9],"nice":false,"zero":false},"axis":null},"order":{"value":null}}},
    {"transform":[{"filter":{"not":{"field":"p","equal":"r"}}}],"mark":{"type":"line","color":"black","strokeWidth":1},"encoding":{"x":{"field":"x","type":"quantitative","scale":{"domain":[0.1,0.9],"nice":false,"zero":false},"axis":{"values":[0.1,0.2,0.3,0.4,0.5,0.6,0.7,0.8,0.9],"labels":false,"title":null,"zindex":1}},"y":{"field":"y","type":"quantitative","scale":{"domain":[0.1,0.9],"nice":false,"zero":false},"axis":{"values":[0.1,0.2,0.3,0.4,0.5,0.6,0.7,0.8,0.9],"labels":false,"title":null,"zindex":1}},"detail":{"field":"p"},"order":{"value":null}}}
   ]},
   {"width":86,"height":256,"data":{"values":[{}]},"mark":{"type":"text","text":""},"encoding":{}},
   {"width":255,"height":256,"data":{"name":"t4"},"resolve":{"scale":{"x":"independent","y":"independent"}},"layer":[
    {"transform":[{"filter":{"not":{"field":"p","equal":"r"}}}],"mark":{"type":"line","fill":"#00ffff","strokeWidth":0},"encoding":{"x":{"field":"x","type":"quantitative","scale":{"domain":[0.1,0.9],"nice":false,"zero":false},"axis":null},"y":{"field":"y","type":"quantitative","scale":{"domain":[0.1,0.9],"nice":false,"zero":false},"axis":null},"detail":{"field":"p"},"order":{"value":null}}},
    {"data":{"name":"mesh"},"mark":{"type":"rule","color":"black","strokeWidth":0.9,"clip":true},"encoding":{"x":{"field":"data","type":"quantitative","scale":{"domain":[6.4,57.6],"nice":false,"zero":false},"axis":null}}},
    {"data":{"name":"mesh"},"mark":{"type":"rule","color":"black","strokeWidth":0.9,"clip":true},"encoding":{"y":{"field":"data","type":"quantitative","scale":{"domain":[6.4,57.6],"nice":false,"zero":false},"axis":null}}},
    {"mark":{"type":"line","fill":"white","strokeWidth":0},"encoding":{"x":{"field":"x","type":"quantitative","scale":{"domain":[0.1,0.9],"nice":false,"zero":false},"axis":null},"y":{"field":"y","type":"quantitative","scale":{"domain":[0.1,0.9],"nice":false,"zero":false},"axis":null},"order":{"value":null}}},
    {"transform":[{"filter":{"not":{"field":"p","equal":"r"}}}],"mark":{"type":"line","color":"black","strokeWidth":1},"encoding":{"x":{"field":"x","type":"quantitative","scale":{"domain":[0.1,0.9],"nice":false,"zero":false},"axis":{"values":[0.1,0.2,0.3,0.4,0.5,0.6,0.7,0.8,0.9],"labels":false,"title":null,"zindex":1}},"y":{"field":"y","type":"quantitative","scale":{"domain":[0.1,0.9],"nice":false,"zero":false},"axis":{"values":[0.1,0.2,0.3,0.4,0.5,0.6,0.7,0.8,0.9],"labels":false,"title":null,"zindex":1}},"detail":{"field":"p"},"order":{"value":null}}}
   ]},
   {"width":101,"height":256,"data":{"values":[{}]},"mark":{"type":"text","text":""},"encoding":{}},
   {"width":255,"height":256,"data":{"name":"t34d"},"resolve":{"scale":{"x":"independent","y":"independent"}},"layer":[
    {"transform":[{"filter":{"not":{"field":"p","equal":"r"}}}],"mark":{"type":"line","fill":"#00ffff","strokeWidth":0},"encoding":{"x":{"field":"x","type":"quantitative","scale":{"domain":[0.1,0.9],"nice":false,"zero":false},"axis":null},"y":{"field":"y","type":"quantitative","scale":{"domain":[0.1,0.9],"nice":false,"zero":false},"axis":null},"detail":{"field":"p"},"order":{"value":null}}},
    {"data":{"name":"mesh"},"mark":{"type":"rule","color":"black","strokeWidth":1.25,"clip":true},"encoding":{"x":{"field":"data","type":"quantitative","scale":{"domain":[12.8,115.2],"nice":false,"zero":false},"axis":null}}},
    {"data":{"name":"mesh"},"mark":{"type":"rule","color":"black","strokeWidth":1.25,"clip":true},"encoding":{"y":{"field":"data","type":"quantitative","scale":{"domain":[12.8,115.2],"nice":false,"zero":false},"axis":null}}},
    {"mark":{"type":"line","fill":"white","strokeWidth":0},"encoding":{"x":{"field":"x","type":"quantitative","scale":{"domain":[0.1,0.9],"nice":false,"zero":false},"axis":null},"y":{"field":"y","type":"quantitative","scale":{"domain":[0.1,0.9],"nice":false,"zero":false},"axis":null},"order":{"value":null}}},
    {"transform":[{"filter":{"not":{"field":"p","equal":"r"}}}],"mark":{"type":"line","color":"black","strokeWidth":1.6},"encoding":{"x":{"field":"x","type":"quantitative","scale":{"domain":[0.1,0.9],"nice":false,"zero":false},"axis":{"values":[0.1,0.2,0.3,0.4,0.5,0.6,0.7,0.8,0.9],"labels":false,"title":null,"zindex":1}},"y":{"field":"y","type":"quantitative","scale":{"domain":[0.1,0.9],"nice":false,"zero":false},"axis":{"values":[0.1,0.2,0.3,0.4,0.5,0.6,0.7,0.8,0.9],"labels":false,"title":null,"zindex":1}},"detail":{"field":"p"},"order":{"value":null}}}
   ]},
   {"width":31.2,"height":256,"data":{"values":[{}]},"mark":{"type":"text","text":""},"encoding":{}},
   {"width":255,"height":256,"data":{"name":"t78"},"resolve":{"scale":{"x":"independent","y":"independent"}},"layer":[
    {"transform":[{"filter":{"not":{"field":"p","equal":"r"}}}],"mark":{"type":"line","fill":"#00ffff","strokeWidth":0},"encoding":{"x":{"field":"x","type":"quantitative","scale":{"domain":[0.1,0.9],"nice":false,"zero":false},"axis":null},"y":{"field":"y","type":"quantitative","scale":{"domain":[0.1,0.9],"nice":false,"zero":false},"axis":null},"detail":{"field":"p"},"order":{"value":null}}},
    {"data":{"name":"mesh"},"mark":{"type":"rule","color":"black","strokeWidth":1,"clip":true},"encoding":{"x":{"field":"data","type":"quantitative","scale":{"domain":[3.2,28.8],"nice":false,"zero":false},"axis":null}}},
    {"data":{"name":"mesh"},"mark":{"type":"rule","color":"black","strokeWidth":1,"clip":true},"encoding":{"y":{"field":"data","type":"quantitative","scale":{"domain":[3.2,28.8],"nice":false,"zero":false},"axis":null}}},
    {"mark":{"type":"line","fill":"white","strokeWidth":0},"encoding":{"x":{"field":"x","type":"quantitative","scale":{"domain":[0.1,0.9],"nice":false,"zero":false},"axis":null},"y":{"field":"y","type":"quantitative","scale":{"domain":[0.1,0.9],"nice":false,"zero":false},"axis":null},"order":{"value":null}}},
    {"transform":[{"filter":{"not":{"field":"p","equal":"r"}}}],"mark":{"type":"line","color":"black","strokeWidth":1},"encoding":{"x":{"field":"x","type":"quantitative","scale":{"domain":[0.1,0.9],"nice":false,"zero":false},"axis":{"values":[0.1,0.2,0.3,0.4,0.5,0.6,0.7,0.8,0.9],"labels":false,"title":null,"zindex":1}},"y":{"field":"y","type":"quantitative","scale":{"domain":[0.1,0.9],"nice":false,"zero":false},"axis":{"values":[0.1,0.2,0.3,0.4,0.5,0.6,0.7,0.8,0.9],"labels":false,"title":null,"zindex":1}},"detail":{"field":"p"},"order":{"value":null}}}
   ]},
   {"width":86,"height":256,"data":{"values":[{}]},"mark":{"type":"text","text":""},"encoding":{}},
   {"width":255,"height":256,"data":{"name":"t78"},"resolve":{"scale":{"x":"independent","y":"independent"}},"layer":[
    {"transform":[{"filter":{"not":{"field":"p","equal":"r"}}}],"mark":{"type":"line","fill":"#00ffff","strokeWidth":0},"encoding":{"x":{"field":"x","type":"quantitative","scale":{"domain":[0.1,0.9],"nice":false,"zero":false},"axis":null},"y":{"field":"y","type":"quantitative","scale":{"domain":[0.1,0.9],"nice":false,"zero":false},"axis":null},"detail":{"field":"p"},"order":{"value":null}}},
    {"data":{"name":"mesh"},"mark":{"type":"rule","color":"black","strokeWidth":0.9,"clip":true},"encoding":{"x":{"field":"data","type":"quantitative","scale":{"domain":[6.4,57.6],"nice":false,"zero":false},"axis":null}}},
    {"data":{"name":"mesh"},"mark":{"type":"rule","color":"black","strokeWidth":0.9,"clip":true},"encoding":{"y":{"field":"data","type":"quantitative","scale":{"domain":[6.4,57.6],"nice":false,"zero":false},"axis":null}}},
    {"mark":{"type":"line","fill":"white","strokeWidth":0},"encoding":{"x":{"field":"x","type":"quantitative","scale":{"domain":[0.1,0.9],"nice":false,"zero":false},"axis":null},"y":{"field":"y","type":"quantitative","scale":{"domain":[0.1,0.9],"nice":false,"zero":false},"axis":null},"order":{"value":null}}},
    {"transform":[{"filter":{"not":{"field":"p","equal":"r"}}}],"mark":{"type":"line","color":"black","strokeWidth":1},"encoding":{"x":{"field":"x","type":"quantitative","scale":{"domain":[0.1,0.9],"nice":false,"zero":false},"axis":{"values":[0.1,0.2,0.3,0.4,0.5,0.6,0.7,0.8,0.9],"labels":false,"title":null,"zindex":1}},"y":{"field":"y","type":"quantitative","scale":{"domain":[0.1,0.9],"nice":false,"zero":false},"axis":{"values":[0.1,0.2,0.3,0.4,0.5,0.6,0.7,0.8,0.9],"labels":false,"title":null,"zindex":1}},"detail":{"field":"p"},"order":{"value":null}}}
   ]},
   {"width":101,"height":256,"data":{"values":[{}]},"mark":{"type":"text","text":""},"encoding":{}},
   {"width":255,"height":256,"data":{"name":"t78d"},"resolve":{"scale":{"x":"independent","y":"independent"}},"layer":[
    {"transform":[{"filter":{"not":{"field":"p","equal":"r"}}}],"mark":{"type":"line","fill":"#00ffff","strokeWidth":0},"encoding":{"x":{"field":"x","type":"quantitative","scale":{"domain":[0.1,0.9],"nice":false,"zero":false},"axis":null},"y":{"field":"y","type":"quantitative","scale":{"domain":[0.1,0.9],"nice":false,"zero":false},"axis":null},"detail":{"field":"p"},"order":{"value":null}}},
    {"data":{"name":"mesh"},"mark":{"type":"rule","color":"black","strokeWidth":1.25,"clip":true},"encoding":{"x":{"field":"data","type":"quantitative","scale":{"domain":[12.8,115.2],"nice":false,"zero":false},"axis":null}}},
    {"data":{"name":"mesh"},"mark":{"type":"rule","color":"black","strokeWidth":1.25,"clip":true},"encoding":{"y":{"field":"data","type":"quantitative","scale":{"domain":[12.8,115.2],"nice":false,"zero":false},"axis":null}}},
    {"mark":{"type":"line","fill":"white","strokeWidth":0},"encoding":{"x":{"field":"x","type":"quantitative","scale":{"domain":[0.1,0.9],"nice":false,"zero":false},"axis":null},"y":{"field":"y","type":"quantitative","scale":{"domain":[0.1,0.9],"nice":false,"zero":false},"axis":null},"order":{"value":null}}},
    {"transform":[{"filter":{"not":{"field":"p","equal":"r"}}}],"mark":{"type":"line","color":"black","strokeWidth":1.6},"encoding":{"x":{"field":"x","type":"quantitative","scale":{"domain":[0.1,0.9],"nice":false,"zero":false},"axis":{"values":[0.1,0.2,0.3,0.4,0.5,0.6,0.7,0.8,0.9],"labels":false,"title":null,"zindex":1}},"y":{"field":"y","type":"quantitative","scale":{"domain":[0.1,0.9],"nice":false,"zero":false},"axis":{"values":[0.1,0.2,0.3,0.4,0.5,0.6,0.7,0.8,0.9],"labels":false,"title":null,"zindex":1}},"detail":{"field":"p"},"order":{"value":null}}}
   ]},
   {"width":31.2,"height":256,"data":{"values":[{}]},"mark":{"type":"text","text":""},"encoding":{}},
   {"width":255,"height":256,"data":{"name":"circ"},"resolve":{"scale":{"x":"independent","y":"independent"}},"layer":[
    {"transform":[{"filter":{"not":{"field":"p","equal":"r"}}}],"mark":{"type":"line","fill":"#00ffff","strokeWidth":0},"encoding":{"x":{"field":"x","type":"quantitative","scale":{"domain":[0.1,0.9],"nice":false,"zero":false},"axis":null},"y":{"field":"y","type":"quantitative","scale":{"domain":[0.1,0.9],"nice":false,"zero":false},"axis":null},"detail":{"field":"p"},"order":{"value":null}}},
    {"data":{"name":"mesh"},"mark":{"type":"rule","color":"black","strokeWidth":1,"clip":true},"encoding":{"x":{"field":"data","type":"quantitative","scale":{"domain":[3.2,28.8],"nice":false,"zero":false},"axis":null}}},
    {"data":{"name":"mesh"},"mark":{"type":"rule","color":"black","strokeWidth":1,"clip":true},"encoding":{"y":{"field":"data","type":"quantitative","scale":{"domain":[3.2,28.8],"nice":false,"zero":false},"axis":null}}},
    {"mark":{"type":"line","fill":"white","strokeWidth":0},"encoding":{"x":{"field":"x","type":"quantitative","scale":{"domain":[0.1,0.9],"nice":false,"zero":false},"axis":null},"y":{"field":"y","type":"quantitative","scale":{"domain":[0.1,0.9],"nice":false,"zero":false},"axis":null},"order":{"value":null}}},
    {"transform":[{"filter":{"not":{"field":"p","equal":"r"}}}],"mark":{"type":"line","color":"black","strokeWidth":1},"encoding":{"x":{"field":"x","type":"quantitative","scale":{"domain":[0.1,0.9],"nice":false,"zero":false},"axis":{"values":[0.1,0.2,0.3,0.4,0.5,0.6,0.7,0.8,0.9],"labels":false,"title":null,"zindex":1}},"y":{"field":"y","type":"quantitative","scale":{"domain":[0.1,0.9],"nice":false,"zero":false},"axis":{"values":[0.1,0.2,0.3,0.4,0.5,0.6,0.7,0.8,0.9],"labels":false,"title":null,"zindex":1}},"detail":{"field":"p"},"order":{"value":null}}}
   ]},
   {"width":86,"height":256,"data":{"values":[{}]},"mark":{"type":"text","text":""},"encoding":{}},
   {"width":255,"height":256,"data":{"name":"circ"},"resolve":{"scale":{"x":"independent","y":"independent"}},"layer":[
    {"transform":[{"filter":{"not":{"field":"p","equal":"r"}}}],"mark":{"type":"line","fill":"#00ffff","strokeWidth":0},"encoding":{"x":{"field":"x","type":"quantitative","scale":{"domain":[0.1,0.9],"nice":false,"zero":false},"axis":null},"y":{"field":"y","type":"quantitative","scale":{"domain":[0.1,0.9],"nice":false,"zero":false},"axis":null},"detail":{"field":"p"},"order":{"value":null}}},
    {"data":{"name":"mesh"},"mark":{"type":"rule","color":"black","strokeWidth":0.9,"clip":true},"encoding":{"x":{"field":"data","type":"quantitative","scale":{"domain":[6.4,57.6],"nice":false,"zero":false},"axis":null}}},
    {"data":{"name":"mesh"},"mark":{"type":"rule","color":"black","strokeWidth":0.9,"clip":true},"encoding":{"y":{"field":"data","type":"quantitative","scale":{"domain":[6.4,57.6],"nice":false,"zero":false},"axis":null}}},
    {"mark":{"type":"line","fill":"white","strokeWidth":0},"encoding":{"x":{"field":"x","type":"quantitative","scale":{"domain":[0.1,0.9],"nice":false,"zero":false},"axis":null},"y":{"field":"y","type":"quantitative","scale":{"domain":[0.1,0.9],"nice":false,"zero":false},"axis":null},"order":{"value":null}}},
    {"transform":[{"filter":{"not":{"field":"p","equal":"r"}}}],"mark":{"type":"line","color":"black","strokeWidth":1},"encoding":{"x":{"field":"x","type":"quantitative","scale":{"domain":[0.1,0.9],"nice":false,"zero":false},"axis":{"values":[0.1,0.2,0.3,0.4,0.5,0.6,0.7,0.8,0.9],"labels":false,"title":null,"zindex":1}},"y":{"field":"y","type":"quantitative","scale":{"domain":[0.1,0.9],"nice":false,"zero":false},"axis":{"values":[0.1,0.2,0.3,0.4,0.5,0.6,0.7,0.8,0.9],"labels":false,"title":null,"zindex":1}},"detail":{"field":"p"},"order":{"value":null}}}
   ]},
   {"width":101,"height":256,"data":{"values":[{}]},"mark":{"type":"text","text":""},"encoding":{}},
   {"width":255,"height":256,"data":{"name":"wedge"},"resolve":{"scale":{"x":"independent","y":"independent"}},"layer":[
    {"transform":[{"filter":{"not":{"field":"p","equal":"r"}}}],"mark":{"type":"line","fill":"#00ffff","strokeWidth":0},"encoding":{"x":{"field":"x","type":"quantitative","scale":{"domain":[0.1,0.9],"nice":false,"zero":false},"axis":null},"y":{"field":"y","type":"quantitative","scale":{"domain":[0.1,0.9],"nice":false,"zero":false},"axis":null},"detail":{"field":"p"},"order":{"value":null}}},
    {"data":{"name":"mesh"},"mark":{"type":"rule","color":"black","strokeWidth":1.25,"clip":true},"encoding":{"x":{"field":"data","type":"quantitative","scale":{"domain":[12.8,115.2],"nice":false,"zero":false},"axis":null}}},
    {"data":{"name":"mesh"},"mark":{"type":"rule","color":"black","strokeWidth":1.25,"clip":true},"encoding":{"y":{"field":"data","type":"quantitative","scale":{"domain":[12.8,115.2],"nice":false,"zero":false},"axis":null}}},
    {"mark":{"type":"line","fill":"white","strokeWidth":0},"encoding":{"x":{"field":"x","type":"quantitative","scale":{"domain":[0.1,0.9],"nice":false,"zero":false},"axis":null},"y":{"field":"y","type":"quantitative","scale":{"domain":[0.1,0.9],"nice":false,"zero":false},"axis":null},"order":{"value":null}}},
    {"transform":[{"filter":{"not":{"field":"p","equal":"r"}}}],"mark":{"type":"line","color":"black","strokeWidth":1.6},"encoding":{"x":{"field":"x","type":"quantitative","scale":{"domain":[0.1,0.9],"nice":false,"zero":false},"axis":{"values":[0.1,0.2,0.3,0.4,0.5,0.6,0.7,0.8,0.9],"labels":false,"title":null,"zindex":1}},"y":{"field":"y","type":"quantitative","scale":{"domain":[0.1,0.9],"nice":false,"zero":false},"axis":{"values":[0.1,0.2,0.3,0.4,0.5,0.6,0.7,0.8,0.9],"labels":false,"title":null,"zindex":1}},"detail":{"field":"p"},"order":{"value":null}}}
   ]}
  ],"columns":6,"spacing":{"row":28,"column":0},"bounds":"flush"}
 ],"spacing":0}
],"spacing":0}
],"spacing":0
}
